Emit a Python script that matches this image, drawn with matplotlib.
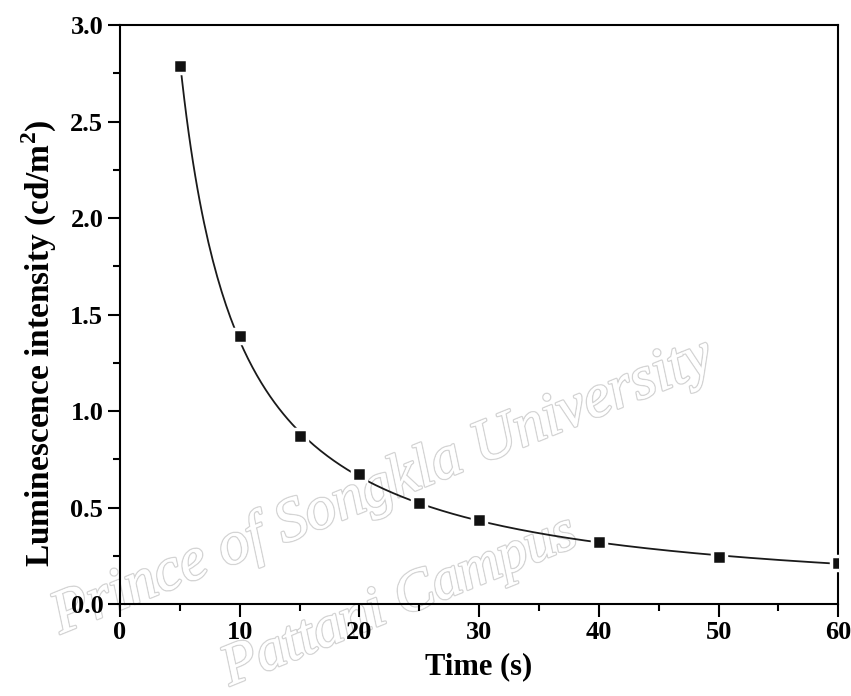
import numpy as np
import matplotlib.pyplot as plt
import matplotlib.patheffects as pe
from matplotlib.ticker import MultipleLocator

# measured data
time_s = [5, 10, 15, 20, 25, 30, 40, 50, 60]
intensity = [2.79, 1.39, 0.87, 0.675, 0.525, 0.435, 0.32, 0.245, 0.212]

# power-law fit (log-log) for the smooth curve
b, ln_a = np.polyfit(np.log(time_s), np.log(intensity), 1)
xf = np.linspace(min(time_s), max(time_s), 300)
yf = np.exp(ln_a) * xf ** b

plt.rcParams['font.family'] = ['Liberation Serif', 'DejaVu Serif']
plt.rcParams['font.weight'] = 'bold'

fig = plt.figure(figsize=(8.51, 6.96), dpi=100)
ax = fig.add_axes([0.141, 0.132, 0.844, 0.832])
ax.set_facecolor('none')

ax.plot(xf, yf, color='#1a1a1a', lw=1.3, zorder=2)
ax.plot(time_s, intensity, ls='none', marker='s', ms=10, mfc='#111111',
        mec='white', mew=2.5, zorder=3)

ax.set_xlim(0, 60)
ax.set_ylim(0, 3.0)
ax.xaxis.set_major_locator(MultipleLocator(10))
ax.xaxis.set_minor_locator(MultipleLocator(5))
ax.yaxis.set_major_locator(MultipleLocator(0.5))
ax.yaxis.set_minor_locator(MultipleLocator(0.25))
ax.yaxis.set_major_formatter(plt.FormatStrFormatter('%.1f'))

ax.tick_params(which='major', direction='out', length=9, width=1.5,
               labelsize=19, pad=3)
ax.tick_params(which='minor', direction='out', length=5, width=1.5)
for s in ax.spines.values():
    s.set_linewidth(1.5)

ax.set_xlabel('Time (s)', fontsize=22, fontweight='bold', labelpad=6)
ax.set_ylabel('Luminescence intensity (cd/m$^\\mathregular{2}$)', fontsize=24,
              fontweight='bold', labelpad=8)
ax.yaxis.set_label_coords(-0.085, 0.45)

# watermark, drawn behind the axes
wm = dict(color='white', fontstyle='italic', fontweight='normal',
          ha='center', va='center', rotation=22, zorder=-5,
          path_effects=[pe.withStroke(linewidth=2, foreground='#d4d4d4'),
                        pe.Normal()])
fig.text(0.45, 0.30, 'Prince of Songkla University', fontsize=44, **wm)
fig.text(0.47, 0.135, 'Pattani Campus', fontsize=42, **wm)

fig.savefig('out.png', dpi=100)
